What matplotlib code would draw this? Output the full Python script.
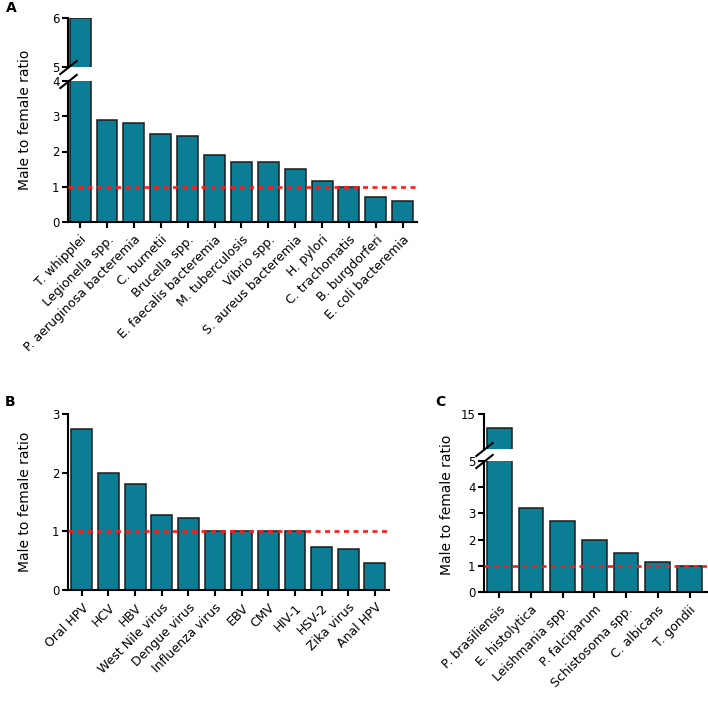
import matplotlib.pyplot as plt
import numpy as np

plt.rcParams['font.family'] = ['DejaVu Sans']

# Panel A - bacteria
bact_names = ['T. whipplei', 'Legionella spp.', 'P. aeruginosa bacteremia', 'C. burnetii',
              'Brucella spp.', 'E. faecalis bacteremia', 'M. tuberculosis', 'Vibrio spp.',
              'S. aureus bacteremia', 'H. pylori', 'C. trachomatis', 'B. burgdorferi',
              'E. coli bacteremia']
bact_vals = [6.0, 2.9, 2.8, 2.5, 2.45, 1.9, 1.7, 1.7, 1.5, 1.15, 1.0, 0.7, 0.6]

# Panel B - viruses
vir_names = ['Oral HPV', 'HCV', 'HBV', 'West Nile virus', 'Dengue virus', 'Influenza virus',
             'EBV', 'CMV', 'HIV-1', 'HSV-2', 'Zika virus', 'Anal HPV']
vir_vals = [2.75, 2.0, 1.8, 1.27, 1.23, 1.0, 1.0, 1.0, 1.0, 0.74, 0.7, 0.46]

# Panel C - parasites / fungi
par_names = ['P. brasiliensis', 'E. histolytica', 'Leishmania spp.', 'P. falciparum',
             'Schistosoma spp.', 'C. albicans', 'T. gondii']
par_vals = [13.0, 3.2, 2.7, 2.0, 1.5, 1.15, 1.0]

BAR = '#0b7e96'
EDGE = '#1c1c1c'
W, H = 708, 704


def box(l, t, r, b):
    # pixel box -> figure fraction
    return [l / W, 1 - b / H, (r - l) / W, (b - t) / H]


def style(ax):
    for s in ['top', 'right']:
        ax.spines[s].set_visible(False)
    for s in ['left', 'bottom']:
        ax.spines[s].set_linewidth(1.5)
    ax.tick_params(direction='out', length=4, width=1.5, labelsize=8.5, pad=2)
    ax.tick_params(axis='x', pad=4)


def bars(ax, vals, xlim):
    x = np.arange(len(vals))
    ax.bar(x, vals, width=0.78, color=BAR, edgecolor=EDGE, linewidth=1.1, zorder=2)
    ax.set_xlim(*xlim)


def slash(ax, y):
    ax.plot([0], [y], transform=ax.transAxes, marker=[(-1, -0.8), (1, 0.8)],
            markersize=13, markeredgewidth=1.5, color='k', clip_on=False, zorder=5)


def refline(ax):
    ax.axhline(1, color='#ff1a1a', ls=(0, (1.9, 1.7)), lw=1.9, zorder=3)


def xlabels(ax, names):
    ax.set_xticks(np.arange(len(names)))
    ax.set_xticklabels(names, rotation=45, ha='right', rotation_mode='anchor', fontsize=9)


fig = plt.figure(figsize=(7.08, 7.04), dpi=100)

# ---- A ----
xa = (-0.45, 12.53)
axA = fig.add_axes(box(68, 81, 417, 222))
axAu = fig.add_axes(box(68, 18, 417, 67))
for ax in (axA, axAu):
    style(ax)
    bars(ax, bact_vals, xa)
axA.set_ylim(0, 4)
axA.set_yticks([0, 1, 2, 3, 4])
refline(axA)
xlabels(axA, bact_names)
axAu.set_ylim(5, 6)
axAu.set_yticks([5, 6])
axAu.spines['bottom'].set_visible(False)
axAu.set_xticks([])
slash(axAu, 0)
slash(axA, 1)

# ---- B ----
axB = fig.add_axes(box(68, 414, 389, 590))
style(axB)
bars(axB, vir_vals, (-0.52, 11.53))
axB.set_ylim(0, 3)
axB.set_yticks([0, 1, 2, 3])
refline(axB)
xlabels(axB, vir_names)

# ---- C ----
xc = (-0.48, 6.55)
axC = fig.add_axes(box(484, 461, 707, 592))
axCu = fig.add_axes(box(484, 414, 707, 449))
for ax in (axC, axCu):
    style(ax)
    bars(ax, par_vals, xc)
axC.set_ylim(0, 5)
axC.set_yticks([0, 1, 2, 3, 4, 5])
refline(axC)
xlabels(axC, par_names)
axCu.set_ylim(10, 15)
axCu.set_yticks([15])
axCu.spines['bottom'].set_visible(False)
axCu.set_xticks([])
slash(axCu, 0)
slash(axC, 1)

# axis labels and panel letters
lab = dict(rotation=90, ha='center', va='center', fontsize=10)
fig.text(25 / W, 1 - 120 / H, 'Male to female ratio', **lab)
fig.text(25 / W, 1 - 502 / H, 'Male to female ratio', **lab)
fig.text(447 / W, 1 - 505 / H, 'Male to female ratio', **lab)
fig.text(6 / W, 1 - 8 / H, 'A', fontsize=10, fontweight='bold', va='center')
fig.text(5 / W, 1 - 402 / H, 'B', fontsize=10, fontweight='bold', va='center')
fig.text(435 / W, 1 - 402 / H, 'C', fontsize=10, fontweight='bold', va='center')

fig.savefig('out.png', dpi=100)
